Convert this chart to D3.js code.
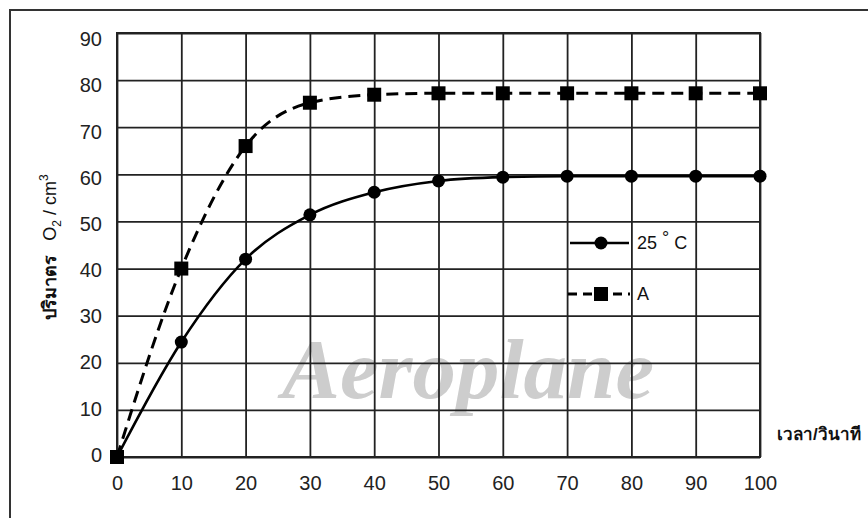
<!DOCTYPE html>
<html>
<head>
<meta charset="utf-8">
<script src="https://cdn.jsdelivr.net/npm/d3@7"></script>
<style>
  body { margin: 0; background: #fff; }
  svg { display: block; font-family: "Liberation Sans", Arial, sans-serif; }
</style>
</head>
<body>
<svg id="chart" width="868" height="518"></svg>
<script>
// time in seconds
const times = [0, 10, 20, 30, 40, 50, 60, 70, 80, 90, 100];
// O2 volume, cm3
const series25C = [0, 24.4, 42, 51.4, 56.2, 58.6, 59.4, 59.6, 59.6, 59.6, 59.6];
const seriesA = [0, 40, 66, 75.2, 76.9, 77.2, 77.2, 77.2, 77.2, 77.2, 77.2];
const xTicks = [0, 10, 20, 30, 40, 50, 60, 70, 80, 90, 100];
const yTicks = [0, 10, 20, 30, 40, 50, 60, 70, 80, 90];

const W = 868, H = 518;
const margin = { left: 117, top: 33, right: 108, bottom: 61 };
const width = W - margin.left - margin.right;
const height = H - margin.top - margin.bottom;

const svg = d3.select("#chart");

// outer frame
svg.append("rect")
  .attr("x", 10).attr("y", 10)
  .attr("width", 900).attr("height", 600)
  .attr("fill", "none")
  .attr("stroke", "#333")
  .attr("stroke-width", 2);

// watermark
svg.append("text")
  .attr("x", 282).attr("y", 398)
  .attr("font-family", "Liberation Serif")
  .attr("font-style", "italic")
  .attr("font-weight", "bold")
  .attr("font-size", 84)
  .attr("textLength", 372)
  .attr("lengthAdjust", "spacingAndGlyphs")
  .attr("fill", "#cdcdcd")
  .text("Aeroplane");

const g = svg.append("g")
  .attr("transform", "translate(" + margin.left + "," + margin.top + ")");

const x = d3.scaleLinear().domain([0, 100]).range([0, width]);
const y = d3.scaleLinear().domain([0, 90]).range([height, 0]);
// tick labels sit slightly off the grid lines in the original
const yLab = d3.scaleLinear().domain([0, 90]).range([height - 3, 5.5]);

// grid + x axis
g.append("g")
  .attr("transform", "translate(0," + height + ")")
  .call(d3.axisBottom(x).tickValues(xTicks).tickSize(-height).tickPadding(19))
  .call(a => a.select(".domain").remove())
  .call(a => a.selectAll("line").attr("stroke", "#222").attr("stroke-width", 1.8))
  .call(a => a.selectAll("text").attr("font-size", 20).attr("fill", "#222")
    .attr("font-family", "Liberation Sans, Arial, sans-serif"));

// grid lines for y
g.append("g")
  .call(d3.axisLeft(y).tickValues(yTicks).tickSize(-width).tickFormat(""))
  .call(a => a.select(".domain").remove())
  .call(a => a.selectAll("line").attr("stroke", "#222").attr("stroke-width", 1.8));

// y tick labels
g.append("g")
  .call(d3.axisLeft(yLab).tickValues(yTicks).tickSize(0).tickPadding(15))
  .call(a => a.select(".domain").remove())
  .call(a => a.selectAll("text").attr("font-size", 20).attr("fill", "#222")
    .attr("dy", "0.36em")
    .attr("font-family", "Liberation Sans, Arial, sans-serif"));

g.append("rect")
  .attr("width", width).attr("height", height)
  .attr("fill", "none")
  .attr("stroke", "#222")
  .attr("stroke-width", 2);

const line = d3.line()
  .x((d, i) => x(times[i]))
  .y(d => y(d))
  .curve(d3.curveMonotoneX);

// 25 C curve
g.append("path")
  .datum(series25C)
  .attr("d", line)
  .attr("fill", "none")
  .attr("stroke", "#000")
  .attr("stroke-width", 2.6);

// A curve
g.append("path")
  .datum(seriesA)
  .attr("d", line)
  .attr("fill", "none")
  .attr("stroke", "#000")
  .attr("stroke-width", 3)
  .attr("stroke-dasharray", "12,7");

g.selectAll("circle.c25")
  .data(series25C)
  .enter()
  .append("circle")
  .attr("class", "c25")
  .attr("cx", (d, i) => x(times[i]))
  .attr("cy", d => y(d))
  .attr("r", 6.5)
  .attr("fill", "#000");

const sq = 14;
g.selectAll("rect.sa")
  .data(seriesA)
  .enter()
  .append("rect")
  .attr("class", "sa")
  .attr("x", (d, i) => x(times[i]) - sq / 2)
  .attr("y", d => y(d) - sq / 2)
  .attr("width", sq).attr("height", sq)
  .attr("fill", "#000");

// legend
const leg = svg.append("g");
leg.append("line")
  .attr("x1", 570).attr("x2", 629).attr("y1", 243).attr("y2", 243)
  .attr("stroke", "#000").attr("stroke-width", 2.6);
leg.append("circle")
  .attr("cx", 601).attr("cy", 243).attr("r", 6.5).attr("fill", "#000");
const t1 = leg.append("text")
  .attr("x", 637).attr("y", 249)
  .attr("font-size", 18).attr("fill", "#111");
t1.append("tspan").text("25 ");
t1.append("tspan").attr("dy", -5).text("°");
t1.append("tspan").attr("dy", 5).text(" C");

leg.append("line")
  .attr("x1", 568).attr("x2", 630).attr("y1", 294).attr("y2", 294)
  .attr("stroke", "#000").attr("stroke-width", 3)
  .attr("stroke-dasharray", "9,6");
leg.append("rect")
  .attr("x", 601 - sq / 2).attr("y", 294 - sq / 2)
  .attr("width", sq).attr("height", sq).attr("fill", "#000");
leg.append("text")
  .attr("x", 637).attr("y", 300)
  .attr("font-size", 18).attr("fill", "#111")
  .text("A");

// x axis title
svg.append("text")
  .attr("x", 777).attr("y", 440)
  .attr("font-size", 17)
  .attr("font-weight", "bold")
  .attr("fill", "#111")
  .text("เวลา/วินาที");

// y axis title
const yt = svg.append("text")
  .attr("transform", "translate(56,247) rotate(-90)")
  .attr("text-anchor", "middle")
  .attr("font-size", 18)
  .attr("fill", "#111");
yt.append("tspan").attr("font-weight", "bold").text("ปริมาตร");
yt.append("tspan").attr("dx", 14).text("O");
yt.append("tspan").attr("dy", 5).attr("font-size", 12).text("2");
yt.append("tspan").attr("dy", -5).text(" / cm");
yt.append("tspan").attr("dy", -8).attr("font-size", 12).text("3");
</script>
</body>
</html>
